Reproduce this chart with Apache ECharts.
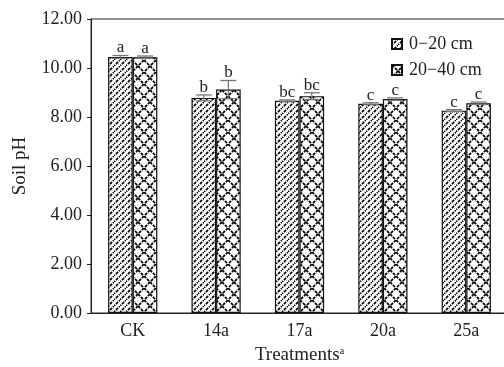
<!DOCTYPE html>
<html><head><meta charset="utf-8">
<script src="https://cdn.jsdelivr.net/npm/echarts@6/dist/echarts.min.js"></script>
<style>html,body{margin:0;padding:0;background:#fff}#c{width:504px;height:367px}</style>
</head><body><div id="c"></div>
<script>
const categories = ['CK','14a','17a','20a','25a'];
const seriesNames = ['0\u221220 cm','20\u221240 cm'];
const ph0_20 = [10.45, 8.78, 8.66, 8.54, 8.26];
const ph20_40 = [10.44, 9.12, 8.85, 8.73, 8.56];
const err0_20 = [0.06, 0.12, 0.04, 0.04, 0.04];
const err20_40 = [0.05, 0.37, 0.14, 0.05, 0.05];
const sig0_20 = ['a','b','bc','c','c'];
const sig20_40 = ['a','b','bc','c','c'];
const yTicks = {min:0, max:12, interval:2};

function makePattern(type){
  const c = document.createElement('canvas');
  const s = type === 'diag' ? 6 : 12;
  c.width = s; c.height = s;
  const g = c.getContext('2d');
  g.fillStyle = '#fff'; g.fillRect(0,0,s,s);
  g.strokeStyle = '#000'; g.lineWidth = 1.7;
  g.setLineDash([3,1.2]);
  if (type === 'diag') {
    g.beginPath(); g.moveTo(-1,s+1); g.lineTo(s+1,-1); g.stroke();
  } else {
    g.beginPath(); g.moveTo(0,0); g.lineTo(s,s); g.stroke();
    g.beginPath(); g.moveTo(s,0); g.lineTo(0,s); g.stroke();
  }
  return {image:c, repeat:'repeat'};
}
const pat1 = makePattern('diag');
const pat2 = makePattern('cross');

const chart = echarts.init(document.getElementById('c'));
const font = 'Liberation Serif';
function errSeries(idx, vals, errs, sigs){
  return {
    type:'custom', silent:true, z:5,
    data: vals.map((v,i)=>[i, v, errs[i]]),
    renderItem: function(params, api){
      const i = api.value(0), v = api.value(1), e = api.value(2);
      const sig = sigs[i];
      const bw = api.size([1,0])[0];
      const barW = bw * 0.295;
      const off = (idx === 0 ? -0.5 : 0.5) * barW;
      const top = api.coord([i, v + e]);
      const bot = api.coord([i, v - e]);
      const x = top[0] + off;
      const cap = 8;
      const st = {stroke:'#777', lineWidth:1.3};
      return {type:'group', children:[
        {type:'line', shape:{x1:x, y1:top[1], x2:x, y2:bot[1]}, style:st},
        {type:'line', shape:{x1:x-cap, y1:top[1], x2:x+cap, y2:top[1]}, style:st},
        {type:'line', shape:{x1:x-cap, y1:bot[1], x2:x+cap, y2:bot[1]}, style:st},
        {type:'text', style:{text:sig, x:x, y:top[1]+1, align:'center', verticalAlign:'bottom',
          font:'17px "Liberation Serif"', fill:'#222'}}
      ]};
    }
  };
}
chart.setOption({
  animation:false,
  grid:{left:91, top:19, width:417, height:294, show:true, borderColor:'#222', borderWidth:1,
        containLabel:false, outerBoundsMode:'none'},
  legend:{
    orient:'vertical', left:386, top:30, itemWidth:10, itemHeight:10, itemGap:8,
    textStyle:{fontFamily:font, fontSize:18, color:'#222', padding:[0,0,0,2]},
    data: seriesNames.map(n=>({name:n, icon:'rect'}))
  },
  xAxis:{
    type:'category', data:categories,
    axisLine:{lineStyle:{color:'#222', width:1}},
    axisTick:{inside:true, length:5, lineStyle:{color:'#222'}},
    axisLabel:{fontFamily:font, fontSize:18, color:'#222', margin:9},
    name:'{n|Treatments}{s|a}', nameLocation:'middle', nameGap:33,
    nameTextStyle:{rich:{n:{fontFamily:font, fontSize:19, color:'#222'}, s:{fontFamily:font, fontSize:10, color:'#222', verticalAlign:'top', padding:[0,0,8,0]}}}
  },
  yAxis:{
    type:'value', min:yTicks.min, max:yTicks.max, interval:yTicks.interval,
    axisLine:{show:true, lineStyle:{color:'#222', width:1}},
    axisTick:{show:true, length:4, lineStyle:{color:'#222'}},
    splitLine:{show:false},
    axisLabel:{fontFamily:font, fontSize:18, color:'#222', margin:9, formatter:v=>v.toFixed(2)},
    name:'Soil pH', nameLocation:'middle', nameGap:61,
    nameTextStyle:{fontFamily:font, fontSize:19, color:'#222'}
  },
  series:[
    {name:seriesNames[0], type:'bar', data:ph0_20, barGap:'0%', barCategoryGap:'41%',
     itemStyle:{color:pat1, borderColor:'#111', borderWidth:1.2}},
    {name:seriesNames[1], type:'bar', data:ph20_40,
     itemStyle:{color:pat2, borderColor:'#111', borderWidth:1.2}},
    errSeries(0, ph0_20, err0_20, sig0_20),
    errSeries(1, ph20_40, err20_40, sig20_40)
  ]
});
</script></body></html>
